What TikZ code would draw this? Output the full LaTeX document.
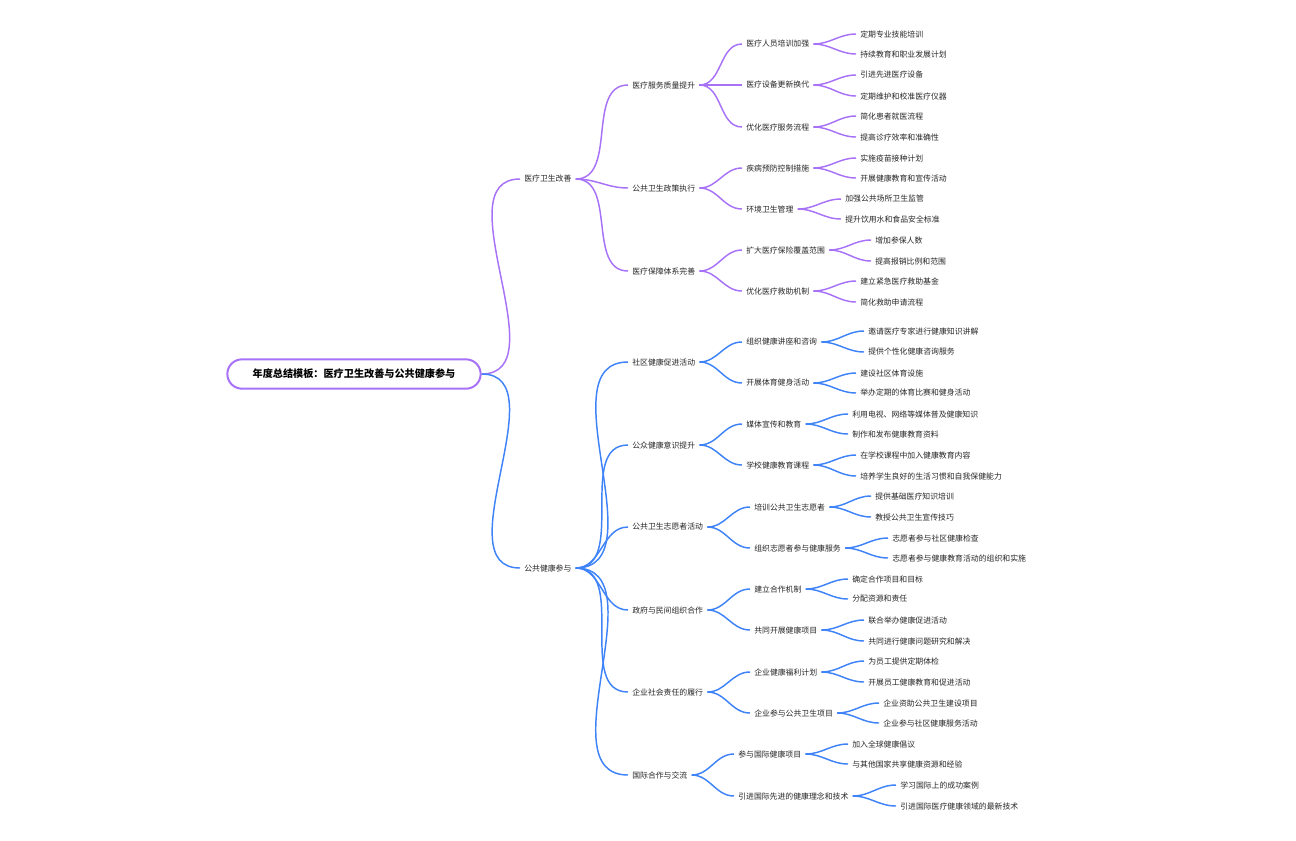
\documentclass[tikz,border=0pt]{standalone}
\usepackage{fontspec}
\newfontfamily\cjk{Noto Sans CJK SC}
\definecolor{mpurple}{HTML}{A772F7}
\definecolor{mblue}{HTML}{3F83F8}
\tikzset{
  topic/.style = {anchor=west, inner sep=3pt, font=\cjk\fontsize{5.9pt}{7pt}\selectfont, text=black!85},
  root/.style = {draw=mpurple, line width=1.5pt, fill=white, rounded corners=11pt,
                 minimum width=190pt, minimum height=22pt, font=\cjk\bfseries\fontsize{7.6pt}{9pt}\selectfont},
  plink/.style = {mpurple, line width=1.1pt},
  blink/.style = {mblue, line width=1.1pt}
}
\begin{document}
\begin{tikzpicture}[x=0.75pt, y=-0.75pt]
  \useasboundingbox (0,0) rectangle (1296,840);

  \node[topic] (a) at (520,179) {医疗卫生改善};
  \node[topic] (a1) at (628,85) {医疗服务质量提升};
  \node[topic] (a2) at (628,188) {公共卫生政策执行};
  \node[topic] (a3) at (628,271) {医疗保障体系完善};
  \node[topic] (a11) at (742,44) {医疗人员培训加强};
  \node[topic] (a12) at (742,85) {医疗设备更新换代};
  \node[topic] (a13) at (742,127) {优化医疗服务流程};
  \node[topic] (a21) at (742,168) {疾病预防控制措施};
  \node[topic] (a22) at (742,209) {环境卫生管理};
  \node[topic] (a31) at (742,250) {扩大医疗保险覆盖范围};
  \node[topic] (a32) at (742,291) {优化医疗救助机制};
  \node[topic] (a111) at (856,34) {定期专业技能培训};
  \node[topic] (a112) at (856,54) {持续教育和职业发展计划};
  \node[topic] (a121) at (856,75) {引进先进医疗设备};
  \node[topic] (a122) at (856,96) {定期维护和校准医疗仪器};
  \node[topic] (a131) at (856,116) {简化患者就医流程};
  \node[topic] (a132) at (856,137) {提高诊疗效率和准确性};
  \node[topic] (a211) at (856,158) {实施疫苗接种计划};
  \node[topic] (a212) at (856,178) {开展健康教育和宣传活动};
  \node[topic] (a221) at (841,199) {加强公共场所卫生监管};
  \node[topic] (a222) at (841,219) {提升饮用水和食品安全标准};
  \node[topic] (a311) at (871,240) {增加参保人数};
  \node[topic] (a312) at (871,261) {提高报销比例和范围};
  \node[topic] (a321) at (856,281) {建立紧急医疗救助基金};
  \node[topic] (a322) at (856,302) {简化救助申请流程};

  \node[topic] (b) at (520,568) {公共健康参与};
  \node[topic] (b1) at (628,362) {社区健康促进活动};
  \node[topic] (b2) at (628,445) {公众健康意识提升};
  \node[topic] (b3) at (628,527) {公共卫生志愿者活动};
  \node[topic] (b4) at (628,610) {政府与民间组织合作};
  \node[topic] (b5) at (628,692) {企业社会责任的履行};
  \node[topic] (b6) at (628,775) {国际合作与交流};
  \node[topic] (b11) at (742,342) {组织健康讲座和咨询};
  \node[topic] (b12) at (742,383) {开展体育健身活动};
  \node[topic] (b21) at (742,424) {媒体宣传和教育};
  \node[topic] (b22) at (742,465) {学校健康教育课程};
  \node[topic] (b31) at (750,507) {培训公共卫生志愿者};
  \node[topic] (b32) at (750,548) {组织志愿者参与健康服务};
  \node[topic] (b41) at (750,589) {建立合作机制};
  \node[topic] (b42) at (750,630) {共同开展健康项目};
  \node[topic] (b51) at (750,672) {企业健康福利计划};
  \node[topic] (b52) at (750,713) {企业参与公共卫生项目};
  \node[topic] (b61) at (734,754) {参与国际健康项目};
  \node[topic] (b62) at (734,796) {引进国际先进的健康理念和技术};
  \node[topic] (b111) at (864,331) {邀请医疗专家进行健康知识讲解};
  \node[topic] (b112) at (864,352) {提供个性化健康咨询服务};
  \node[topic] (b121) at (856,373) {建设社区体育设施};
  \node[topic] (b122) at (856,393) {举办定期的体育比赛和健身活动};
  \node[topic] (b211) at (848,414) {利用电视、网络等媒体普及健康知识};
  \node[topic] (b212) at (848,434) {制作和发布健康教育资料};
  \node[topic] (b221) at (856,455) {在学校课程中加入健康教育内容};
  \node[topic] (b222) at (856,476) {培养学生良好的生活习惯和自我保健能力};
  \node[topic] (b311) at (871,496) {提供基础医疗知识培训};
  \node[topic] (b312) at (871,517) {教授公共卫生宣传技巧};
  \node[topic] (b321) at (888,538) {志愿者参与社区健康检查};
  \node[topic] (b322) at (888,558) {志愿者参与健康教育活动的组织和实施};
  \node[topic] (b411) at (848,579) {确定合作项目和目标};
  \node[topic] (b412) at (848,599) {分配资源和责任};
  \node[topic] (b421) at (864,620) {联合举办健康促进活动};
  \node[topic] (b422) at (864,641) {共同进行健康问题研究和解决};
  \node[topic] (b511) at (864,661) {为员工提供定期体检};
  \node[topic] (b512) at (864,682) {开展员工健康教育和促进活动};
  \node[topic] (b521) at (879,703) {企业资助公共卫生建设项目};
  \node[topic] (b522) at (879,723) {企业参与社区健康服务活动};
  \node[topic] (b611) at (848,744) {加入全球健康倡议};
  \node[topic] (b612) at (848,764) {与其他国家共享健康资源和经验};
  \node[topic] (b621) at (896,785) {学习国际上的成功案例};
  \node[topic] (b622) at (896,806) {引进国际医疗健康领域的最新技术};

  \node[root] (r) at (354,374) {年度总结模板：医疗卫生改善与公共健康参与};

  \foreach \p/\c in {r/a, a/a1, a/a2, a/a3, a1/a11, a1/a12, a1/a13, a2/a21, a2/a22, a3/a31, a3/a32,
      a11/a111, a11/a112, a12/a121, a12/a122, a13/a131, a13/a132, a21/a211, a21/a212,
      a22/a221, a22/a222, a31/a311, a31/a312, a32/a321, a32/a322}
    \draw[plink] (\p.east) to[out=0, in=180] (\c.west);

  \foreach \p/\c in {r/b, b/b1, b/b2, b/b3, b/b4, b/b5, b/b6, b1/b11, b1/b12, b2/b21, b2/b22,
      b3/b31, b3/b32, b4/b41, b4/b42, b5/b51, b5/b52, b6/b61, b6/b62,
      b11/b111, b11/b112, b12/b121, b12/b122, b21/b211, b21/b212, b22/b221, b22/b222,
      b31/b311, b31/b312, b32/b321, b32/b322, b41/b411, b41/b412, b42/b421, b42/b422,
      b51/b511, b51/b512, b52/b521, b52/b522, b61/b611, b61/b612, b62/b621, b62/b622}
    \draw[blink] (\p.east) to[out=0, in=180] (\c.west);
\end{tikzpicture}
\end{document}
